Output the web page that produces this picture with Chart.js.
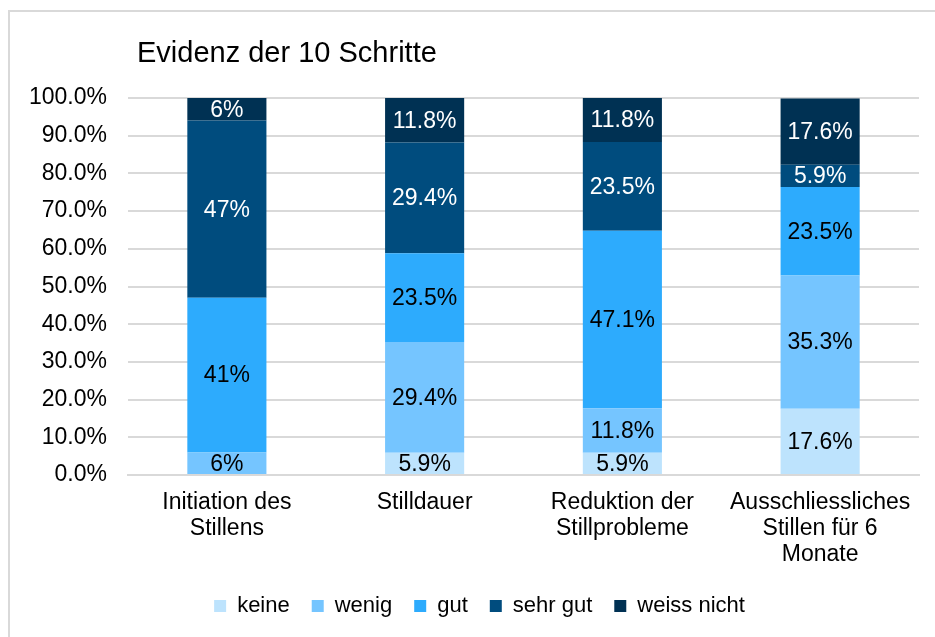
<!DOCTYPE html>
<html>
<head>
<meta charset="utf-8">
<script src="https://cdn.jsdelivr.net/npm/chart.js@4/dist/chart.umd.min.js"></script>
<style>
  body { margin: 0; background: #fff; }
  #frame { position: absolute; left: 8px; top: 10px; width: 940px; height: 640px;
           border-left: 2px solid #d9d9d9; border-top: 2px solid #d9d9d9; }
  #wrap { position: absolute; left: 0; top: 0; width: 935px; height: 637px; }
</style>
</head>
<body>
<div id="frame"></div>
<div id="wrap"><canvas id="grafico" width="935" height="637"></canvas></div>
<script>
// ==================== Daten ====================
const labels = [
  ["Initiation des", "Stillens"],
  "Stilldauer",
  ["Reduktion der", "Stillprobleme"],
  ["Ausschliessliches", "Stillen für 6", "Monate"],
];

const keine = [0, 5.9, 5.9, 17.6];
const wenig = [6, 29.4, 11.8, 35.3];
const gut = [41, 23.5, 47.1, 23.5];
const sehrGut = [47, 29.4, 23.5, 5.9];
const weissNicht = [6, 11.8, 11.8, 17.6];

const yTicks = [0, 10, 20, 30, 40, 50, 60, 70, 80, 90, 100];

const FONT = "'Liberation Sans', Arial, sans-serif";

const data = {
  labels: labels,
  datasets: [
    { label: "keine", data: keine, backgroundColor: "#bde3fd", textColor: "#000" },
    { label: "wenig", data: wenig, backgroundColor: "#75c5ff", textColor: "#000" },
    { label: "gut", data: gut, backgroundColor: "#2dabfd", textColor: "#000" },
    { label: "sehr gut", data: sehrGut, backgroundColor: "#004c7e", textColor: "#fff" },
    { label: "weiss nicht", data: weissNicht, backgroundColor: "#003153", textColor: "#fff" },
  ],
};

// Werte in den Balken
const barLabels = {
  id: "barLabels",
  afterDatasetsDraw(chart) {
    const ctx = chart.ctx;
    ctx.save();
    ctx.font = "23px " + FONT;
    ctx.textAlign = "center";
    ctx.textBaseline = "middle";
    chart.data.datasets.forEach((ds, i) => {
      chart.getDatasetMeta(i).data.forEach((bar, j) => {
        const v = ds.data[j];
        if (!v) return;
        const txt = Number.isInteger(v) ? v + "%" : v.toFixed(1) + "%";
        ctx.fillStyle = ds.textColor;
        ctx.fillText(txt, bar.x, (bar.y + bar.base) / 2 + 1);
      });
    });
    ctx.restore();
  },
};

// Titel + Legende etwas nach rechts
const titel = {
  id: "titel",
  afterLayout(chart) {
    chart.legend.left += 20;
    chart.legend.right += 20;
  },
  afterDraw(chart) {
    const ctx = chart.ctx;
    ctx.save();
    ctx.font = "29px " + FONT;
    ctx.fillStyle = "#000";
    ctx.textAlign = "left";
    ctx.textBaseline = "middle";
    ctx.fillText("Evidenz der 10 Schritte", 137, 54);
    ctx.restore();
  },
};

const config = {
  type: "bar",
  data: data,
  options: {
    responsive: false,
    animation: false,
    layout: { padding: { top: 98, left: 0, right: 16, bottom: 10 } },
    datasets: { bar: { categoryPercentage: 1, barPercentage: 0.4 } },
    scales: {
      x: {
        stacked: true,
        grid: { display: false, drawTicks: false },
        border: { color: "#d9d9d9", width: 2 },
        ticks: { color: "#000", padding: 14, font: { family: FONT, size: 23, lineHeight: 1.15 }, maxRotation: 0, autoSkip: false },
        afterFit(scale) { scale.height = 98; },
      },
      y: {
        stacked: true,
        min: 0,
        max: 100,
        afterBuildTicks(scale) { scale.ticks = yTicks.map(v => ({ value: v })); },
        grid: { color: "#d9d9d9", lineWidth: 2, drawTicks: false },
        border: { display: false },
        ticks: {
          color: "#000",
          padding: 21,
          font: { family: FONT, size: 23 },
          callback: v => v.toFixed(1) + "%",
        },
        afterFit(scale) { scale.width = 128; },
      },
    },
    plugins: {
      title: { display: false },
      tooltip: { enabled: false },
      legend: {
        position: "bottom",
        labels: { boxWidth: 12, boxHeight: 12, padding: 22, color: "#000", font: { family: FONT, size: 22 } },
      },
    },
  },
  plugins: [barLabels, titel],
};

const grafico = new Chart(document.getElementById("grafico"), config);
</script>
</body>
</html>
